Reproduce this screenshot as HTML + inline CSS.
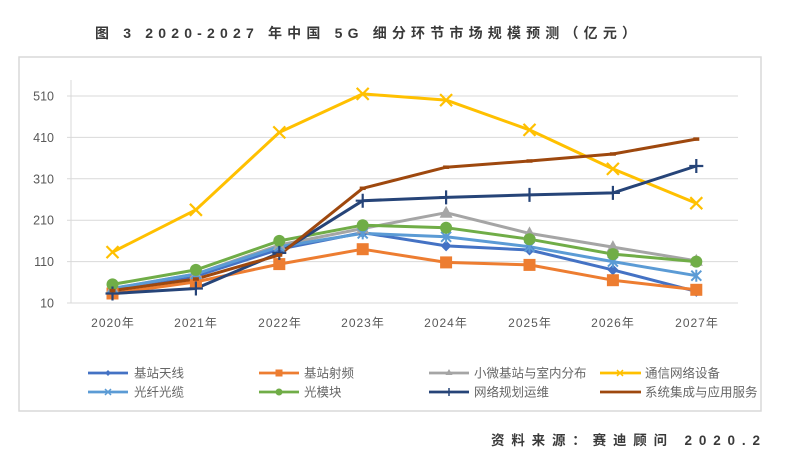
<!DOCTYPE html>
<html><head><meta charset="utf-8"><style>
html,body{margin:0;padding:0;background:#fff;}
svg{display:block;}
text{font-family:"Liberation Sans","Noto Sans CJK SC",sans-serif;}
</style></head><body>
<svg width="800" height="460" viewBox="0 0 800 460" xmlns="http://www.w3.org/2000/svg">
<rect width="800" height="460" fill="#fff"/>
<!-- title -->
<text x="95" y="38" font-size="14" font-weight="bold" fill="#3a3a3a" textLength="541" lengthAdjust="spacing">图 3 2020-2027 年中国 5G 细分环节市场规模预测（亿元）</text>
<!-- chart border -->
<rect x="19" y="57" width="742" height="354" fill="#fff" stroke="#d9d9d9" stroke-width="1.5"/>
<!-- gridlines -->
<g stroke="#d9d9d9" stroke-width="1">
<line x1="67" y1="96" x2="738" y2="96"/>
<line x1="67" y1="137.4" x2="738" y2="137.4"/>
<line x1="67" y1="178.8" x2="738" y2="178.8"/>
<line x1="67" y1="220.2" x2="738" y2="220.2"/>
<line x1="67" y1="261.6" x2="738" y2="261.6"/>
<line x1="67" y1="303" x2="738" y2="303"/>
<line x1="71" y1="80" x2="71" y2="303"/>
</g>
<!-- y labels -->
<g font-size="12.5" fill="#595959" text-anchor="end">
<text x="54" y="100.5">510</text>
<text x="54" y="141.9">410</text>
<text x="54" y="183.3">310</text>
<text x="54" y="224.7">210</text>
<text x="54" y="266.1">110</text>
<text x="54" y="307.5">10</text>
</g>
<!-- x labels -->
<g font-size="12" fill="#595959" text-anchor="middle" letter-spacing="1">
<text x="113" y="327">2020年</text>
<text x="196" y="327">2021年</text>
<text x="280" y="327">2022年</text>
<text x="363" y="327">2023年</text>
<text x="446" y="327">2024年</text>
<text x="530" y="327">2025年</text>
<text x="613" y="327">2026年</text>
<text x="697" y="327">2027年</text>
</g>
<defs>
<path id="dia" d="M0,-5.5 L5.5,0 L0,5.5 L-5.5,0 Z"/>
<rect id="sq" x="-6" y="-6" width="12" height="12"/>
<path id="tri" d="M0,-7 L6.5,5 L-6.5,5 Z"/>
<path id="xx" d="M-6,-6 L6,6 M-6,6 L6,-6"/>
<path id="ast" d="M-5,-5 L5,5 M-5,5 L5,-5 M0,-6 L0,6"/>
<path id="pl" d="M-7,0 L7,0 M0,-7 L0,7"/>
<path id="dsh" d="M-3,0 L3,0"/>
</defs>
<g fill="none" stroke-width="3" stroke-linejoin="round">
<polyline stroke="#4472C4" points="112.5,290.6 195.9,276.1 279.3,249.2 362.7,232.6 446.1,245.9 529.5,250 612.9,269.9 696.3,291.4"/>
<polyline stroke="#ED7D31" points="112.5,293.5 195.9,281.9 279.3,264.1 362.7,249.2 446.1,262.4 529.5,264.9 612.9,280.2 696.3,289.8"/>
<polyline stroke="#A5A5A5" points="112.5,288.5 195.9,274 279.3,245 362.7,228.5 446.1,212.7 529.5,233.4 612.9,247.1 696.3,260.8"/>
<polyline stroke="#FFC000" points="112.5,252.1 195.9,209.8 279.3,132.4 362.7,93.9 446.1,100.1 529.5,129.9 612.9,168.9 696.3,203.2"/>
<polyline stroke="#5B9BD5" points="112.5,288.5 195.9,274 279.3,246.7 362.7,233.4 446.1,236.8 529.5,246.7 612.9,261.6 696.3,275.7"/>
<polyline stroke="#70AD47" points="112.5,284.4 195.9,269.9 279.3,240.9 362.7,225.2 446.1,227.7 529.5,239.2 612.9,254.1 696.3,261.6"/>
<polyline stroke="#264478" points="112.5,293.5 195.9,288.5 279.3,252.9 362.7,200.7 446.1,197.4 529.5,194.9 612.9,192.9 696.3,166"/>
<polyline stroke="#9E480E" points="112.5,290.6 195.9,279 279.3,255 362.7,188.3 446.1,167.2 529.5,161 612.9,154 696.3,139.1"/>
</g>
<!-- markers -->
<g fill="#4472C4">
<use href="#dia" x="112.5" y="290.6"/><use href="#dia" x="195.9" y="276.1"/><use href="#dia" x="279.3" y="249.2"/><use href="#dia" x="362.7" y="232.6"/><use href="#dia" x="446.1" y="245.9"/><use href="#dia" x="529.5" y="250"/><use href="#dia" x="612.9" y="269.9"/><use href="#dia" x="696.3" y="291.4"/>
</g>
<g fill="#ED7D31">
<use href="#sq" x="112.5" y="293.5"/><use href="#sq" x="195.9" y="281.9"/><use href="#sq" x="279.3" y="264.1"/><use href="#sq" x="362.7" y="249.2"/><use href="#sq" x="446.1" y="262.4"/><use href="#sq" x="529.5" y="264.9"/><use href="#sq" x="612.9" y="280.2"/><use href="#sq" x="696.3" y="289.8"/>
</g>
<g fill="#A5A5A5">
<use href="#tri" x="112.5" y="288.5"/><use href="#tri" x="195.9" y="274"/><use href="#tri" x="279.3" y="245"/><use href="#tri" x="362.7" y="228.5"/><use href="#tri" x="446.1" y="212.7"/><use href="#tri" x="529.5" y="233.4"/><use href="#tri" x="612.9" y="247.1"/><use href="#tri" x="696.3" y="260.8"/>
</g>
<g stroke="#FFC000" stroke-width="2.2" fill="none">
<use href="#xx" x="112.5" y="252.1"/><use href="#xx" x="195.9" y="209.8"/><use href="#xx" x="279.3" y="132.4"/><use href="#xx" x="362.7" y="93.9"/><use href="#xx" x="446.1" y="100.1"/><use href="#xx" x="529.5" y="129.9"/><use href="#xx" x="612.9" y="168.9"/><use href="#xx" x="696.3" y="203.2"/>
</g>
<g stroke="#5B9BD5" stroke-width="2" fill="none">
<use href="#ast" x="112.5" y="288.5"/><use href="#ast" x="195.9" y="274"/><use href="#ast" x="279.3" y="246.7"/><use href="#ast" x="362.7" y="233.4"/><use href="#ast" x="446.1" y="236.8"/><use href="#ast" x="529.5" y="246.7"/><use href="#ast" x="612.9" y="261.6"/><use href="#ast" x="696.3" y="275.7"/>
</g>
<g fill="#70AD47">
<circle cx="112.5" cy="284.4" r="6"/><circle cx="195.9" cy="269.9" r="6"/><circle cx="279.3" cy="240.9" r="6"/><circle cx="362.7" cy="225.2" r="6"/><circle cx="446.1" cy="227.7" r="6"/><circle cx="529.5" cy="239.2" r="6"/><circle cx="612.9" cy="254.1" r="6"/><circle cx="696.3" cy="261.6" r="6"/>
</g>
<g stroke="#264478" stroke-width="2.2" fill="none">
<use href="#pl" x="112.5" y="293.5"/><use href="#pl" x="195.9" y="288.5"/><use href="#pl" x="279.3" y="252.9"/><use href="#pl" x="362.7" y="200.7"/><use href="#pl" x="446.1" y="197.4"/><use href="#pl" x="529.5" y="194.9"/><use href="#pl" x="612.9" y="192.9"/><use href="#pl" x="696.3" y="166"/>
</g>
<g stroke="#9E480E" stroke-width="3.5" fill="none">
<use href="#dsh" x="112.5" y="290.6"/><use href="#dsh" x="195.9" y="279"/><use href="#dsh" x="279.3" y="255"/><use href="#dsh" x="362.7" y="188.3"/><use href="#dsh" x="446.1" y="167.2"/><use href="#dsh" x="529.5" y="161"/><use href="#dsh" x="612.9" y="154"/><use href="#dsh" x="696.3" y="139.1"/>
</g>
<!-- legend -->
<g stroke-width="2.8">
<line x1="88" y1="373" x2="128" y2="373" stroke="#4472C4"/>
<line x1="259" y1="373" x2="299" y2="373" stroke="#ED7D31"/>
<line x1="429" y1="373" x2="469" y2="373" stroke="#A5A5A5"/>
<line x1="600" y1="373" x2="641" y2="373" stroke="#FFC000"/>
<line x1="88" y1="392" x2="128" y2="392" stroke="#5B9BD5"/>
<line x1="259" y1="392" x2="299" y2="392" stroke="#70AD47"/>
<line x1="429" y1="392" x2="469" y2="392" stroke="#264478"/>
<line x1="600" y1="392" x2="641" y2="392" stroke="#9E480E"/>
</g>
<g>
<path d="M108,370 L111,373 L108,376 L105,373Z" fill="#4472C4"/>
<rect x="275.5" y="369.5" width="7" height="7" fill="#ED7D31"/>
<path d="M449,369 L452.5,375 L445.5,375Z" fill="#A5A5A5"/>
<path d="M617,370 L623,376 M617,376 L623,370" stroke="#FFC000" stroke-width="1.5"/>
<path d="M105,389 L111,395 M105,395 L111,389" stroke="#5B9BD5" stroke-width="1.5"/>
<circle cx="279" cy="392" r="3.5" fill="#70AD47"/>
<path d="M449,388 L449,396" stroke="#264478" stroke-width="1.5"/>
</g>
<g font-size="12.5" fill="#666">
<text x="134" y="377.5">基站天线</text>
<text x="304" y="377.5">基站射频</text>
<text x="474" y="377.5">小微基站与室内分布</text>
<text x="645" y="377.5">通信网络设备</text>
<text x="134" y="396.5">光纤光缆</text>
<text x="304" y="396.5">光模块</text>
<text x="474" y="396.5">网络规划运维</text>
<text x="645" y="396.5">系统集成与应用服务</text>
</g>
<!-- source -->
<text x="491" y="445" font-size="13.5" font-weight="bold" fill="#3a3a3a" textLength="269" lengthAdjust="spacing">资料来源：赛迪顾问 2020.2</text>
</svg>
</body></html>
